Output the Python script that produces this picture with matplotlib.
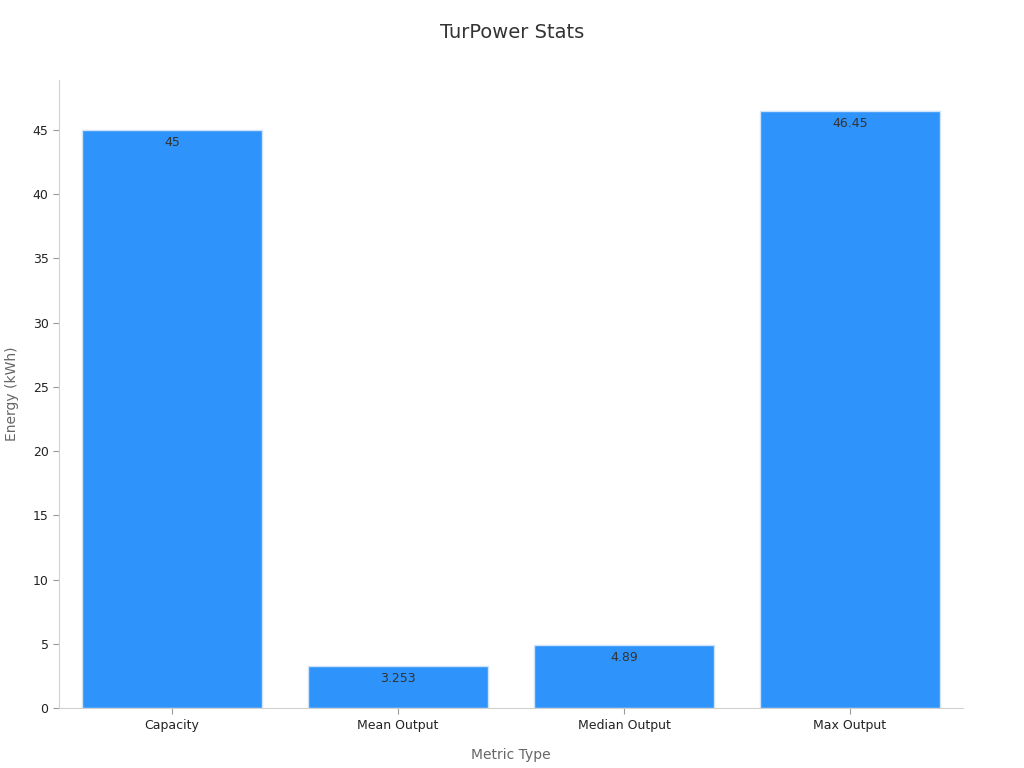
import matplotlib
matplotlib.use("Agg")
import matplotlib.pyplot as plt

categories = ["Capacity", "Mean Output", "Median Output", "Max Output"]
values = [45, 3.253, 4.89, 46.45]
labels = ["45", "3.253", "4.89", "46.45"]

fig = plt.figure(figsize=(10.24, 7.68), dpi=100)
ax = fig.add_axes([0.0576, 0.078, 0.8828, 0.818])
x = range(len(categories))
ax.bar(x, values, width=0.8, color="#2E93FA", edgecolor="#cfe3fb", linewidth=1)
for xi, v, l in zip(x, values, labels):
    ax.annotate(l, (xi, v), xytext=(0, -4), textcoords="offset points",
                ha="center", va="top", fontsize=9, color="#333333")
ax.set_xlim(-0.5, 3.5)
ax.set_ylim(0, 48.9)
ax.set_yticks(range(0, 50, 5))
ax.set_xticks(list(x))
ax.set_xticklabels(categories)
ax.tick_params(labelsize=9, colors="#222222")
ax.tick_params(axis="both", color="#999999", length=4)
for s in ["top", "right"]:
    ax.spines[s].set_visible(False)
for s in ["left", "bottom"]:
    ax.spines[s].set_color("#d0d0d0")
ax.set_xlabel("Metric Type", fontsize=10, color="#666666", labelpad=12)
ax.set_ylabel("Energy (kWh)", fontsize=10, color="#666666", labelpad=10)
fig.suptitle("TurPower Stats", fontsize=14, color="#333333", y=0.97)
fig.savefig("out.png", dpi=100)
